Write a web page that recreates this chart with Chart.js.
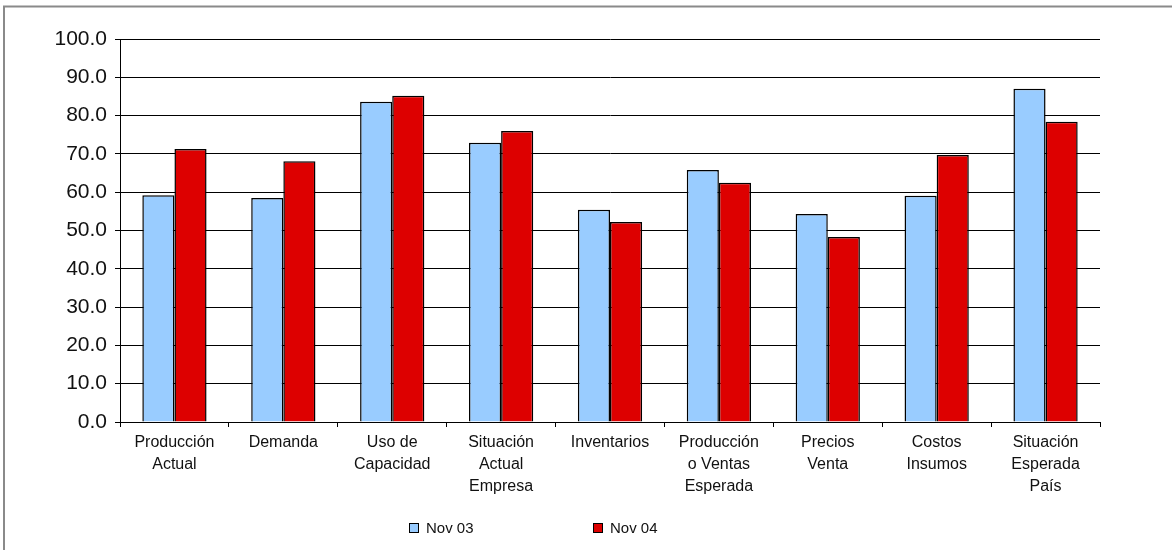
<!DOCTYPE html>
<html lang="es">
<head>
<meta charset="utf-8">
<title>Nov 03 / Nov 04</title>
<script src="https://cdn.jsdelivr.net/npm/chart.js@4/dist/chart.umd.min.js"></script>
<style>
  html, body { margin: 0; padding: 0; background: #ffffff; }
  #wrap { width: 1172px; height: 550px; position: relative; }
  canvas { display: block; }
</style>
</head>
<body>
<div id="wrap"><canvas id="chart" width="1172" height="550"></canvas></div>
<script>
// Category labels (one array per line of the label)
const categories = [
  ['Producción', 'Actual'],
  ['Demanda'],
  ['Uso de', 'Capacidad'],
  ['Situación', 'Actual', 'Empresa'],
  ['Inventarios'],
  ['Producción', 'o Ventas', 'Esperada'],
  ['Precios', 'Venta'],
  ['Costos', 'Insumos'],
  ['Situación', 'Esperada', 'País']
];

const seriesNames = ['Nov 03', 'Nov 04'];

const nov03 = [59.2, 58.5, 83.6, 72.9, 55.4, 65.8, 54.3, 59.1, 87.0];
const nov04 = [71.3, 68.1, 85.2, 76.0, 52.2, 62.5, 48.3, 69.7, 78.4];

const yMin = 0;
const yMax = 100;
const yStep = 10;

const FONT = '"Liberation Sans", Arial, Helvetica, sans-serif';

// Outer frame (top and left edges) drawn behind the chart
const framePlugin = {
  id: 'frame',
  beforeDraw(chart) {
    const ctx = chart.ctx;
    ctx.save();
    ctx.fillStyle = '#ffffff';
    ctx.fillRect(0, 0, chart.width, chart.height);
    ctx.strokeStyle = '#8a8a8a';
    ctx.lineWidth = 2;
    ctx.beginPath();
    ctx.moveTo(4, chart.height);
    ctx.lineTo(4, 6.5);
    ctx.lineTo(chart.width, 6.5);
    ctx.stroke();
    ctx.restore();
  }
};

// Legend row under the axis labels
const legendPlugin = {
  id: 'bottomLegend',
  afterDraw(chart) {
    const ctx = chart.ctx;
    const startX = 409;
    const stepX = 184;
    const cy = 528;
    const box = 10;
    ctx.save();
    ctx.font = '15px ' + FONT;
    ctx.textBaseline = 'middle';
    ctx.textAlign = 'left';
    chart.data.datasets.forEach((ds, i) => {
      const x = startX + i * stepX;
      ctx.fillStyle = ds.backgroundColor;
      ctx.fillRect(x, cy - box / 2, box, box);
      ctx.strokeStyle = '#000000';
      ctx.lineWidth = 1;
      ctx.strokeRect(x + 0.5, cy - box / 2 + 0.5, box - 1, box - 1);
      ctx.fillStyle = '#111111';
      ctx.fillText(ds.label, x + box + 7, cy + 1);
    });
    ctx.restore();
  }
};

new Chart(document.getElementById('chart'), {
  type: 'bar',
  data: {
    labels: categories,
    datasets: [
      {
        label: seriesNames[0],
        data: nov03,
        backgroundColor: '#99ccff',
        borderColor: '#000000',
        borderWidth: 1.5
      },
      {
        label: seriesNames[1],
        data: nov04,
        backgroundColor: '#dd0000',
        borderColor: '#000000',
        borderWidth: 1.5
      }
    ]
  },
  options: {
    responsive: false,
    animation: false,
    events: [],
    layout: { padding: { top: 39, right: 72, bottom: 0, left: 0 } },
    datasets: {
      bar: { categoryPercentage: 0.59, barPercentage: 1.0, borderSkipped: 'start' }
    },
    plugins: {
      legend: { display: false },
      tooltip: { enabled: false },
      title: { display: false }
    },
    scales: {
      x: {
        offset: true,
        grid: {
          offset: true,
          drawOnChartArea: false,
          drawTicks: true,
          tickLength: 5,
          color: '#000000'
        },
        border: { display: true, color: '#000000', width: 1 },
        ticks: {
          autoSkip: false,
          maxRotation: 0,
          minRotation: 0,
          padding: 4,
          color: '#111111',
          font: { family: FONT, size: 16, lineHeight: 1.4 }
        },
        afterFit(scale) { scale.height = 128; }
      },
      y: {
        min: yMin,
        max: yMax,
        grid: {
          color: '#000000',
          lineWidth: 1,
          drawTicks: true,
          tickLength: 5
        },
        border: { display: true, color: '#000000', width: 1 },
        ticks: {
          stepSize: yStep,
          padding: 8,
          color: '#111111',
          font: { family: FONT, size: 21 },
          callback: (v) => Number(v).toFixed(1)
        },
        afterFit(scale) { scale.width = 120; }
      }
    }
  },
  plugins: [framePlugin, legendPlugin]
});
</script>
</body>
</html>
